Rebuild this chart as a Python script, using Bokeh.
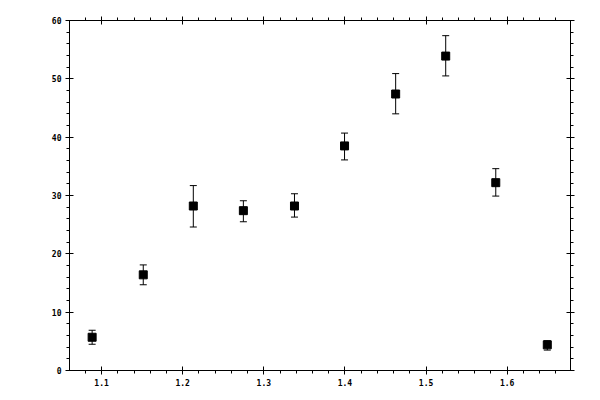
from bokeh.plotting import figure
from bokeh.models import (ColumnDataSource, Whisker, TeeHead, LinearAxis, SingleIntervalTicker,
                          Range1d, CustomJSTickFormatter)
from bokeh.embed import file_html
from bokeh.resources import INLINE

# data
x_vals = [1.0884, 1.1514, 1.2131, 1.2748, 1.3378, 1.3995, 1.4625, 1.5242, 1.5859, 1.6494]
y_vals = [5.7, 16.4, 28.2, 27.4, 28.2, 38.5, 47.4, 53.9, 32.2, 4.4]
y_upper = [6.9, 18.1, 31.7, 29.1, 30.3, 40.7, 50.9, 57.4, 34.6, 5.1]
y_lower = [4.5, 14.7, 24.6, 25.5, 26.3, 36.1, 44.0, 50.5, 29.9, 3.5]

src = ColumnDataSource(dict(x=x_vals, y=y_vals, upper=y_upper, lower=y_lower))

p = figure(frame_width=501, frame_height=350, output_backend="svg", toolbar_location=None,
           x_range=Range1d(1.0605, 1.678), y_range=Range1d(0, 60),
           x_axis_location=None, y_axis_location=None,
           min_border_left=69, min_border_right=16, min_border_top=20, min_border_bottom=22)
p.xgrid.visible = False
p.ygrid.visible = False
p.outline_line_color = "black"
p.outline_line_width = 1
p.background_fill_color = "white"
p.border_fill_color = "white"

FONT = "DejaVu Sans Mono"

def make_axis(interval, labels):
    ax = LinearAxis(ticker=SingleIntervalTicker(interval=interval, num_minor_ticks=5))
    ax.axis_line_color = "black"
    ax.major_tick_line_color = "black"
    ax.minor_tick_line_color = "black"
    ax.major_tick_in = 4
    ax.major_tick_out = 4
    ax.minor_tick_in = 0
    ax.minor_tick_out = 3
    ax.major_label_text_font = FONT
    ax.major_label_text_font_size = "8px"
    ax.major_label_text_font_style = "bold"
    ax.major_label_text_color = "black"
    ax.major_label_standoff = 4
    if not labels:
        ax.formatter = CustomJSTickFormatter(code="return ''")
        ax.major_label_standoff = 0
    return ax

p.add_layout(make_axis(0.1, True), "below")
p.add_layout(make_axis(0.1, False), "above")
p.add_layout(make_axis(10, True), "left")
p.add_layout(make_axis(10, False), "right")

w = Whisker(base="x", upper="upper", lower="lower", source=src, dimension="height",
            line_color="black", line_width=1,
            upper_head=TeeHead(size=7, line_color="black", line_width=1),
            lower_head=TeeHead(size=7, line_color="black", line_width=1))
p.add_layout(w)

p.scatter("x", "y", source=src, marker="square", size=8, fill_color="black", line_color="black")

open("out.html", "w").write(file_html(p, INLINE))
